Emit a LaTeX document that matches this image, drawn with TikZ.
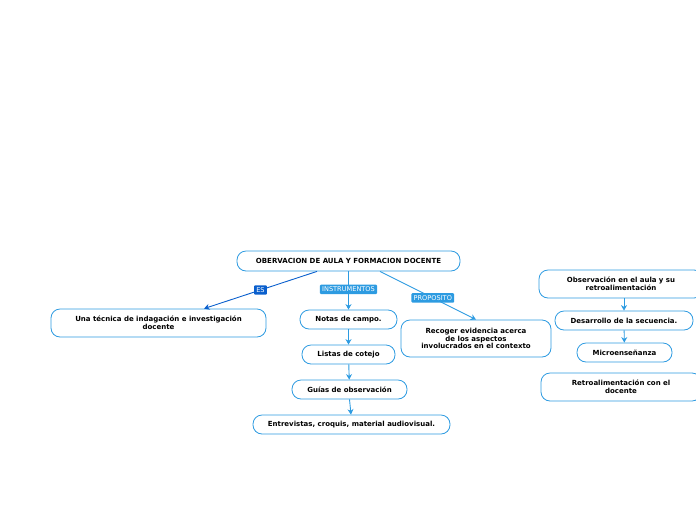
\documentclass[tikz,border=0pt]{standalone}
\usepackage{fontspec}
\setmainfont{DejaVu Sans}
\definecolor{mapBlue}{RGB}{45,155,225}
\definecolor{mapDark}{RGB}{10,95,205}
\usetikzlibrary{arrows.meta,positioning}

\begin{document}
\begin{tikzpicture}[x=1pt,y=-1pt,
    topic/.style={draw=mapBlue, fill=white, rounded corners=9pt, line width=0.8pt,
      font=\fontsize{7}{7.8}\selectfont\bfseries, align=center, inner sep=2pt},
    tag/.style={fill=mapBlue, text=white, rounded corners=1pt,
      font=\fontsize{6.6}{7}\selectfont, inner sep=2.2pt},
    link/.style={->, mapBlue, line width=0.9pt},
    >={Stealth[length=5.5pt,width=6pt]}
  ]
  \useasboundingbox (0,0) rectangle (696,520);
  % central topic
  \node[topic, minimum width=223pt, minimum height=20pt] (root) at (348.5,261) {OBERVACION DE AULA Y FORMACION DOCENTE};
  % main branches
  \node[topic, minimum width=215pt, minimum height=28pt] (tecnica) at (158.5,323) {Una técnica de indagación e investigación\\docente};
  \node[topic, minimum width=97pt, minimum height=19pt] (notas) at (348.5,319.5) {Notas de campo.};
  \node[topic, minimum width=93pt, minimum height=19pt] (listas) at (348.5,354.5) {Listas de cotejo};
  \node[topic, minimum width=115pt, minimum height=19pt] (guias) at (349.5,389.5) {Guías de observación};
  \node[topic, minimum width=197pt, minimum height=19pt] (entrev) at (351.5,424.5) {Entrevistas, croquis, material audiovisual.};
  \node[topic, minimum width=150pt, minimum height=37pt] (recoger) at (476,338.5) {Recoger evidencia acerca\\de los aspectos\\involucrados en el contexto};
  % right column
  \node[topic, minimum width=164pt, minimum height=28pt, text width=150pt] (obsaula) at (621,284) {Observación en el aula y su\\retroalimentación};
  \node[topic, minimum width=138pt, minimum height=19pt] (desarr) at (624,320.5) {Desarrollo de la secuencia.};
  \node[topic, minimum width=95pt, minimum height=19pt] (micro) at (624.5,352.5) {Microenseñanza};
  \node[topic, minimum width=160pt, minimum height=28pt, text width=150pt] (retro) at (621,387) {Retroalimentación con el\\docente};

  \draw[link, mapDark] ([xshift=-31.5pt]root.south) -- ([xshift=45.5pt]tecnica.north)
    node[pos=0.5, tag, fill=mapDark] {ES};
  \draw[link] (root.south -| notas.north) -- (notas.north)
    node[pos=0.47, tag] {INSTRUMENTOS};
  \draw[link] ([xshift=31.5pt]root.south) -- (recoger.north)
    node[pos=0.55, tag] {PROPOSITO};
  \draw[link] (notas) -- (listas);
  \draw[link] (listas) -- (guias);
  \draw[link] (guias.south) -- ([xshift=-0.5pt]entrev.north);
  \draw[link] (obsaula.south -| desarr.north) -- (desarr.north);
  \draw[link] (desarr) -- (micro);
\end{tikzpicture}
\end{document}
